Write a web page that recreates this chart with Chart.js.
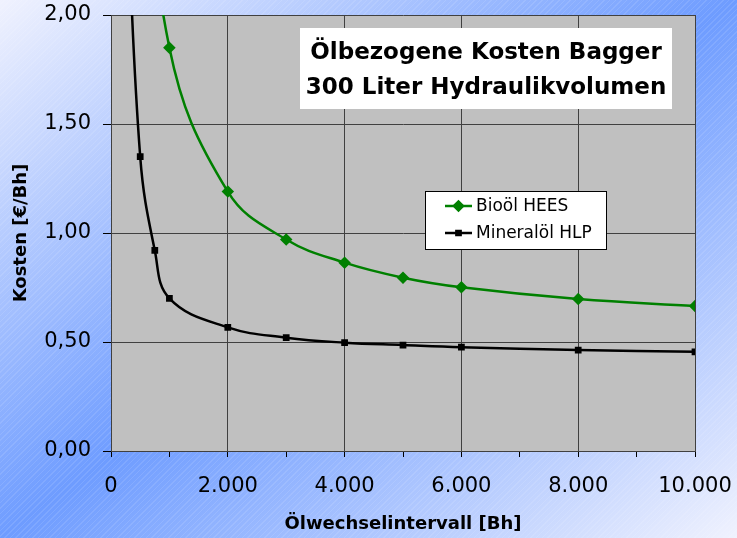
<!DOCTYPE html>
<html>
<head>
<meta charset="utf-8">
<script src="https://cdn.jsdelivr.net/npm/chart.js@4/dist/chart.umd.min.js"></script>
<style>
    html, body {
        margin: 0;
        padding: 0;
    }
    body {
        width: 737px;
        height: 538px;
        overflow: hidden;
        background:
            repeating-linear-gradient(135deg, rgba(255,255,255,0) 0px, rgba(255,255,255,0) 3px, rgba(255,255,255,0.10) 3px, rgba(255,255,255,0.10) 4px),
            linear-gradient(to bottom right, #f0f2fe 0%, #6e9cff 50%, #f0f2fe 100%);
    }
    #wrap {
        position: relative;
        width: 737px;
        height: 538px;
    }
</style>
</head>
<body>
<div id="wrap"><canvas id="costChart"></canvas></div>
<script>
// Ölwechselintervall [Bh]
const mineralHours = [250, 500, 750, 1000, 2000, 3000, 4000, 5000, 6000, 8000, 10000];
const mineralCost = [2.70, 1.35, 0.92, 0.70, 0.567, 0.52, 0.497, 0.486, 0.476, 0.463, 0.455];

const bioHours = [500, 1000, 2000, 3000, 4000, 5000, 6000, 8000, 10000];
const bioCost = [3.17, 1.85, 1.19, 0.97, 0.864, 0.795, 0.751, 0.697, 0.665];

const seriesLabels = ['Bioöl HEES', 'Mineralöl HLP'];
const chartTitle = ['Ölbezogene Kosten Bagger', '300 Liter Hydraulikvolumen'];

const FONT = '"DejaVu Sans", "Liberation Sans", Arial, sans-serif';

const toPoints = (xs, ys) => xs.map((x, i) => ({ x: x, y: ys[i] }));

const formatThousands = (v) => {
    return String(Math.round(v)).replace(/\B(?=(\d{3})+(?!\d))/g, '.');
};

const plotBackground = {
    id: 'plotBackground',
    beforeDraw(chart) {
        const { ctx, chartArea: a } = chart;
        ctx.save();
        ctx.fillStyle = '#c0c0c0';
        ctx.fillRect(a.left, a.top, a.right - a.left, a.bottom - a.top);
        ctx.restore();
    }
};

const overlayBoxes = {
    id: 'overlayBoxes',
    afterDraw(chart) {
        const ctx = chart.ctx;
        ctx.save();

        // title box inside the plot
        ctx.fillStyle = '#ffffff';
        ctx.fillRect(300, 28, 372, 81);
        ctx.fillStyle = '#000000';
        ctx.font = 'bold 23px ' + FONT;
        ctx.textAlign = 'center';
        ctx.textBaseline = 'middle';
        ctx.fillText(chartTitle[0], 486, 53);
        ctx.fillText(chartTitle[1], 486, 88);

        // legend
        ctx.fillStyle = '#ffffff';
        ctx.fillRect(425.5, 191.5, 181, 58);
        ctx.strokeStyle = '#000000';
        ctx.lineWidth = 1;
        ctx.strokeRect(425.5, 191.5, 181, 58);

        const rows = [206, 233];
        ctx.font = '17px ' + FONT;
        ctx.textAlign = 'left';
        chart.data.datasets.forEach((ds, r) => {
            const y = rows[r];
            ctx.strokeStyle = ds.borderColor;
            ctx.lineWidth = 2.5;
            ctx.beginPath();
            ctx.moveTo(445, y);
            ctx.lineTo(472, y);
            ctx.stroke();
            ctx.fillStyle = ds.pointBackgroundColor;
            ctx.strokeStyle = ds.pointBorderColor;
            Chart.helpers.drawPoint(ctx, {
                pointStyle: ds.pointStyle,
                radius: ds.pointRadius,
                borderWidth: 1,
                rotation: 0
            }, 458.5, y);
            ctx.fillStyle = '#000000';
            ctx.fillText(ds.label, 476, y + 1);
        });

        ctx.restore();
    }
};

const chartCanvas = document.getElementById('costChart');

new Chart(chartCanvas, {
    type: 'line',
    data: {
        datasets: [
            {
                label: seriesLabels[0],
                data: toPoints(bioHours, bioCost),
                borderColor: '#008000',
                backgroundColor: '#008000',
                pointBackgroundColor: '#008000',
                pointBorderColor: '#008000',
                pointStyle: 'rectRot',
                pointRadius: 4.5,
                borderWidth: 2.5,
                tension: 0.4
            },
            {
                label: seriesLabels[1],
                data: toPoints(mineralHours, mineralCost),
                borderColor: '#000000',
                backgroundColor: '#000000',
                pointBackgroundColor: '#000000',
                pointBorderColor: '#000000',
                pointStyle: 'rect',
                pointRadius: 3,
                borderWidth: 2.5,
                tension: 0.4
            }
        ]
    },
    options: {
        responsive: true,
        maintainAspectRatio: false,
        animation: false,
        events: [],
        layout: {
            padding: { top: 15, right: 42, left: 0, bottom: 0 }
        },
        elements: {
            line: { capBezierPoints: false }
        },
        plugins: {
            legend: { display: false },
            tooltip: { enabled: false },
            title: { display: false }
        },
        scales: {
            x: {
                type: 'linear',
                min: 0,
                max: 10000,
                afterFit: (scale) => {
                    scale.height = 87;
                    scale.paddingLeft = 0;
                    scale.paddingRight = 0;
                },
                border: { color: '#404040', width: 1 },
                grid: {
                    color: (c) => (c.tick && c.tick.value % 2000 === 0) ? '#404040' : 'rgba(0,0,0,0)',
                    tickColor: '#000000',
                    tickLength: 6
                },
                ticks: {
                    stepSize: 1000,
                    autoSkip: false,
                    maxRotation: 0,
                    padding: 17,
                    color: '#000000',
                    font: { family: FONT, size: 21 },
                    callback: (v) => v % 2000 === 0 ? formatThousands(v) : ''
                },
                title: {
                    display: true,
                    text: 'Ölwechselintervall [Bh]',
                    color: '#000000',
                    font: { family: FONT, size: 18, weight: 'bold' },
                    padding: { top: 0, bottom: 3 }
                }
            },
            y: {
                min: 0,
                max: 2,
                afterFit: (scale) => {
                    scale.width = 111;
                    scale.paddingTop = 0;
                    scale.paddingBottom = 0;
                },
                border: { color: '#404040', width: 1 },
                grid: {
                    color: '#404040',
                    tickColor: '#000000',
                    tickLength: 8
                },
                ticks: {
                    stepSize: 0.5,
                    padding: 12,
                    color: '#000000',
                    font: { family: FONT, size: 21 },
                    callback: (v) => v.toFixed(2).replace('.', ',')
                },
                title: {
                    display: true,
                    text: 'Kosten [€/Bh]',
                    color: '#000000',
                    font: { family: FONT, size: 18, weight: 'bold' },
                    padding: { top: 11, bottom: 0 }
                }
            }
        }
    },
    plugins: [plotBackground, overlayBoxes]
});
</script>
</body>
</html>
